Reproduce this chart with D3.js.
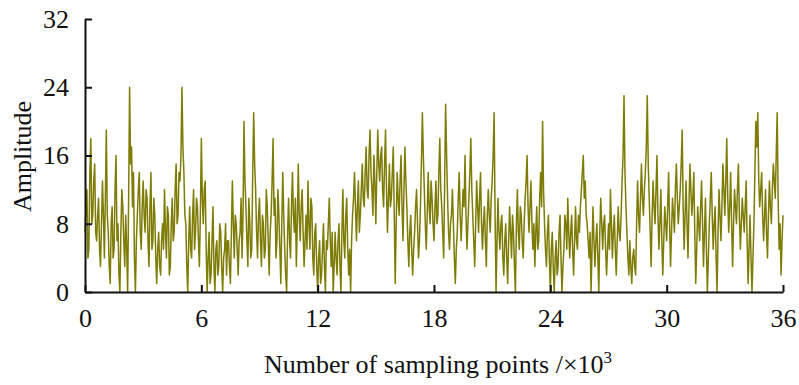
<!DOCTYPE html>
<html>
<head>
<meta charset="utf-8">
<script src="https://cdn.jsdelivr.net/npm/d3@7"></script>
<style>
  body { margin: 0; background: #fff; }
  svg text { font-family: "Liberation Serif", "Times New Roman", serif; fill: #111; }
</style>
</head>
<body>
<script>
// sampling positions run 0..36 (x10^3) in steps of 0.05
const xTicks = [0, 6, 12, 18, 24, 30, 36];
const yTicks = [0, 8, 16, 24, 32];

// amplitude, one row per 1x10^3 samples
const amplitude = [
  7, 10, 12, 4, 5, 14, 18, 8, 9, 13, 15, 7, 6, 9, 11, 5, 3, 8, 13, 9,
  4, 11, 19, 9, 7, 3, 1, 8, 10, 4, 5, 12, 16, 6, 8, 2, 0, 7, 12, 10,
  6, 3, 9, 5, 0, 11, 24, 15, 17, 10, 14, 4, 0, 6, 9, 12, 14, 7, 5, 10,
  13, 9, 7, 12, 11, 6, 3, 10, 14, 5, 6, 11, 9, 4, 1, 5, 7, 3, 2, 6,
  8, 5, 12, 7, 4, 10, 9, 2, 3, 8, 11, 6, 7, 12, 15, 8, 9, 14, 13, 16,
  24, 17, 14, 9, 8, 3, 0, 6, 10, 5, 4, 9, 12, 5, 7, 11, 10, 6, 3, 9,
  18, 11, 8, 12, 13, 5, 0, 4, 7, 1, 2, 6, 10, 3, 0, 5, 6, 2, 3, 8,
  7, 3, 0, 4, 5, 8, 2, 6, 6, 3, 1, 7, 13, 8, 4, 9, 8, 5, 2, 6,
  7, 11, 4, 9, 20, 13, 10, 6, 3, 11, 8, 4, 5, 14, 21, 15, 12, 7, 4, 9,
  11, 6, 3, 9, 8, 4, 5, 12, 10, 6, 2, 7, 9, 13, 18, 9, 11, 4, 6, 12,
  9, 5, 1, 8, 14, 9, 5, 2, 0, 7, 11, 6, 4, 10, 14, 9, 7, 11, 3, 8,
  15, 9, 6, 10, 12, 7, 3, 6, 9, 5, 13, 8, 5, 11, 10, 4, 2, 7, 8, 3,
  0, 4, 6, 1, 2, 5, 8, 3, 0, 6, 5, 8, 11, 6, 3, 7, 0, 3, 7, 4,
  2, 6, 8, 3, 0, 7, 12, 6, 4, 9, 11, 5, 2, 5, 0, 6, 9, 11, 14, 10,
  6, 10, 13, 7, 9, 12, 15, 11, 10, 14, 17, 12, 11, 16, 19, 14, 12, 9, 16, 13,
  8, 14, 19, 15, 13, 16, 17, 12, 10, 15, 19, 12, 7, 11, 15, 10, 11, 14, 17, 9,
  1, 8, 14, 11, 9, 13, 16, 10, 6, 12, 17, 13, 10, 6, 3, 7, 9, 5, 2, 5,
  7, 10, 12, 8, 4, 6, 10, 15, 21, 16, 12, 8, 5, 9, 14, 10, 8, 13, 11, 8,
  6, 10, 13, 8, 9, 14, 18, 12, 10, 7, 4, 13, 22, 16, 11, 7, 5, 8, 9, 12,
  8, 4, 1, 5, 7, 11, 14, 9, 6, 9, 12, 10, 16, 9, 5, 8, 11, 14, 18, 12,
  9, 6, 3, 8, 13, 10, 7, 11, 14, 8, 5, 8, 10, 6, 3, 9, 12, 9, 7, 11,
  13, 16, 21, 9, 0, 6, 11, 7, 5, 8, 9, 4, 2, 6, 8, 4, 1, 6, 10, 7,
  4, 9, 7, 3, 0, 8, 12, 7, 5, 10, 9, 6, 4, 8, 11, 13, 16, 10, 7, 10,
  13, 8, 5, 8, 3, 7, 10, 5, 6, 11, 14, 10, 20, 12, 8, 5, 3, 7, 9, 4,
  0, 5, 7, 3, 0, 4, 6, 2, 3, 7, 9, 4, 0, 3, 5, 9, 8, 5, 11, 7,
  4, 7, 9, 5, 2, 6, 10, 6, 5, 9, 7, 10, 12, 14, 16, 11, 13, 9, 8, 6,
  4, 7, 0, 5, 10, 6, 3, 6, 8, 4, 0, 7, 11, 8, 5, 8, 9, 5, 2, 5,
  8, 5, 12, 8, 4, 7, 9, 5, 2, 6, 10, 7, 6, 9, 13, 16, 23, 14, 10, 7,
  4, 2, 6, 3, 1, 4, 5, 3, 2, 8, 13, 9, 7, 11, 15, 11, 9, 12, 14, 17,
  23, 15, 11, 7, 3, 9, 13, 10, 8, 12, 16, 9, 5, 8, 12, 6, 2, 6, 10, 8,
  6, 10, 14, 8, 3, 7, 11, 9, 7, 12, 15, 11, 8, 10, 12, 15, 19, 10, 5, 9,
  13, 8, 4, 10, 15, 12, 9, 11, 14, 7, 1, 5, 10, 8, 6, 10, 13, 8, 3, 7,
  11, 5, 0, 4, 8, 11, 14, 9, 5, 8, 10, 4, 0, 7, 12, 9, 6, 10, 15, 12,
  9, 13, 18, 11, 7, 10, 14, 8, 3, 8, 12, 10, 8, 12, 15, 9, 5, 8, 11, 9,
  7, 10, 13, 6, 1, 5, 9, 4, 0, 4, 8, 14, 20, 17, 21, 13, 10, 12, 14, 9,
  6, 9, 12, 7, 4, 9, 13, 10, 8, 12, 15, 13, 11, 16, 21, 11, 5, 8, 2, 6,
  9
];
const samples = amplitude.map((_, i) => +(i * 0.05).toFixed(2));

const width = 799, height = 385;
const margin = { top: 19, right: 16, bottom: 93, left: 85 };

const svg = d3.select('body')
  .append('svg')
  .attr('width', width)
  .attr('height', height);

const x = d3.scaleLinear()
  .domain([0, 36])
  .range([margin.left, width - margin.right]);

const y = d3.scaleLinear()
  .domain([0, 32])
  .range([height - margin.bottom, margin.top]);

// the signal
const line = d3.line()
  .x((d, i) => x(samples[i]))
  .y(d => y(d));

svg.append('path')
  .datum(amplitude)
  .attr('fill', 'none')
  .attr('stroke', '#7f7c06')
  .attr('stroke-width', 1.5)
  .attr('stroke-linejoin', 'round')
  .attr('d', line);

// axes with inward ticks
const xAxis = d3.axisBottom(x).tickValues(xTicks).tickSizeInner(-7).tickSizeOuter(0).tickPadding(17);
const yAxis = d3.axisLeft(y).tickValues(yTicks).tickSizeInner(-7).tickSizeOuter(0).tickPadding(16);

const gx = svg.append('g')
  .attr('transform', `translate(0,${height - margin.bottom})`)
  .call(xAxis);

const gy = svg.append('g')
  .attr('transform', `translate(${margin.left},0)`)
  .call(yAxis);

[gx, gy].forEach(g => {
  g.select('.domain').attr('stroke', '#111').attr('stroke-width', 2);
  g.selectAll('.tick line').attr('stroke', '#111').attr('stroke-width', 2);
  g.selectAll('.tick text')
    .attr('font-family', '"Liberation Serif", serif')
    .attr('font-size', 26)
    .attr('fill', '#111');
});

// axis titles
const xTitle = svg.append('text')
  .attr('x', (margin.left + width - margin.right) / 2 + 4)
  .attr('y', 373)
  .attr('text-anchor', 'middle')
  .attr('font-size', 26);
xTitle.append('tspan').text('Number of sampling points /×10');
xTitle.append('tspan').attr('dy', -10).attr('font-size', 17).text('3');

svg.append('text')
  .attr('transform', `translate(31,${(margin.top + height - margin.bottom) / 2 + 1}) rotate(-90)`)
  .attr('text-anchor', 'middle')
  .attr('font-size', 26)
  .text('Amplitude');
</script>
</body>
</html>
